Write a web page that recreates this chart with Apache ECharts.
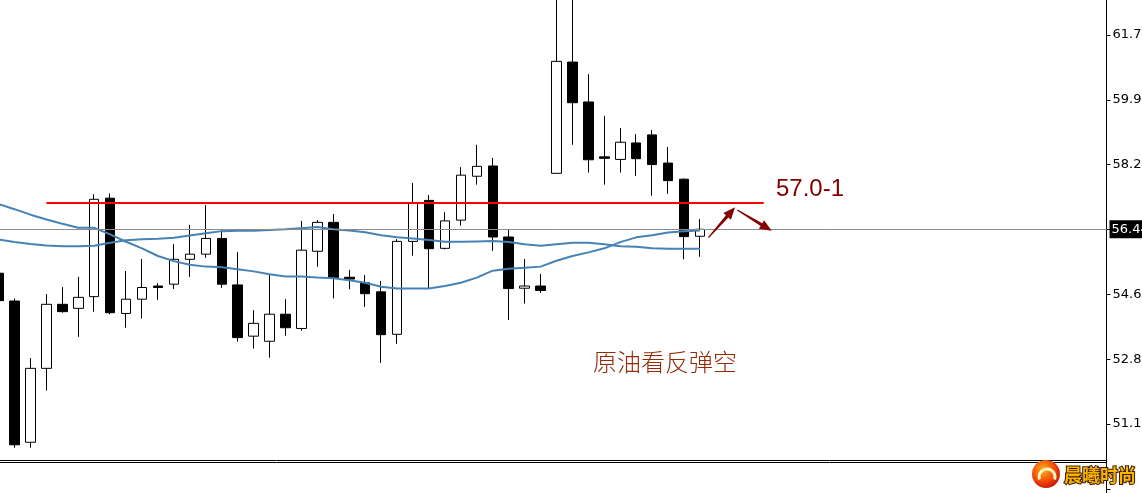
<!DOCTYPE html>
<html>
<head>
<meta charset="utf-8">
<script src="https://cdn.jsdelivr.net/npm/echarts@6/dist/echarts.min.js"></script>
<style>
html,body{margin:0;padding:0;background:#fff;}
#main{width:1142px;height:493px;}
</style>
</head>
<body>
<div id="main"></div>
<script>
// ---- data ----
const opens  = [55.24,54.48,50.62,52.64,54.39,54.28,54.60,57.29,54.14,54.53,54.89,54.94,55.62,55.76,56.19,54.92,53.52,53.38,54.12,53.73,55.84,56.63,55.13,54.98,54.73,53.57,56.11,57.23,55.92,56.69,57.89,58.17,56.23,54.83,54.89,57.97,61.01,59.92,58.42,58.35,58.80,59.02,58.25,57.81,56.25];
const closes = [54.49,50.55,52.64,54.39,54.19,54.58,57.26,54.16,54.53,54.85,54.85,55.62,55.76,56.19,54.94,53.48,53.87,54.12,53.75,55.87,56.63,55.12,55.08,54.68,53.56,56.11,57.15,55.91,56.67,57.92,58.16,56.23,54.82,54.89,54.77,61.03,59.90,58.34,58.38,58.82,58.37,58.21,57.77,56.24,56.44];
const lows   = [54.45,50.47,50.47,52.03,54.16,53.50,54.19,54.12,53.75,54.00,54.51,54.81,55.14,55.66,54.84,53.37,53.18,52.93,53.53,53.67,55.42,54.55,54.80,54.32,52.79,53.31,55.72,54.83,55.89,56.54,57.66,55.85,53.96,54.41,54.70,57.96,58.75,57.99,57.66,57.99,57.90,57.36,57.41,55.62,55.69];
const highs  = [55.30,54.55,52.92,54.67,54.86,55.14,57.40,57.42,55.30,55.63,54.97,56.04,56.56,57.10,56.42,55.82,54.23,55.19,54.53,56.67,56.69,56.86,55.33,55.19,55.03,56.17,57.71,57.38,56.91,58.14,58.75,58.39,56.43,55.63,55.22,63.50,63.30,60.68,59.54,59.21,59.04,59.15,58.69,57.83,56.72];
const maSlow = [57.13,56.99,56.84,56.71,56.59,56.48,56.48,56.30,56.10,55.92,55.71,55.57,55.47,55.42,55.40,55.35,55.29,55.21,55.15,55.15,55.12,55.10,55.05,54.98,54.87,54.82,54.82,54.82,54.89,54.98,55.12,55.31,55.36,55.39,55.42,55.58,55.71,55.81,55.92,56.09,56.22,56.28,56.35,56.39,56.41];
const maFast = [56.16,56.09,56.04,56.00,55.98,55.98,55.99,56.07,56.14,56.17,56.18,56.21,56.27,56.33,56.39,56.40,56.40,56.42,56.44,56.47,56.50,56.44,56.41,56.36,56.28,56.22,56.19,56.15,56.10,56.10,56.11,56.12,56.09,56.03,55.99,56.03,56.07,56.07,56.03,55.98,55.96,55.92,55.91,55.91,55.91];
const tickValues  = [61.750,59.978,58.206,56.434,54.662,52.890,51.118,49.346];
const labelValues = [61.750,59.978,58.206,54.662,52.890,51.118];
const currentPrice = 56.44;
const levelPrice = 57.17;
const levelText = '57.0-1';
const noteText = '原油看反弹空';
const logoText = '晨曦时尚';
const slotCount = 70;
const categories = [];
for (let i = 0; i < slotCount; i++) categories.push(String(i + 1));

const candleData = opens.map((o, i) => [o, closes[i], lows[i], highs[i]]);

const chart = echarts.init(document.getElementById('main'), null, {renderer: 'canvas'});
chart.setOption({
  animation: false,
  backgroundColor: '#ffffff',
  grid: {left: -9.4, right: 35.5, top: 0, bottom: 0, containLabel: false, outerBoundsMode: 'none'},
  xAxis: {
    type: 'category', data: categories, boundaryGap: true, show: false
  },
  yAxis: {
    type: 'value', position: 'right', min: 49.233, max: 62.707, scale: true,
    splitLine: {show: false},
    axisLine: {show: true, onZero: false, lineStyle: {color: '#000', width: 1}},
    axisTick: {show: true, length: 4, lineStyle: {color: '#000', width: 1}, customValues: tickValues},
    axisLabel: {
      show: true, customValues: labelValues, color: '#000', fontSize: 13,
      fontFamily: '"DejaVu Sans", Verdana, sans-serif', margin: 6,
      formatter: v => Number(v).toFixed(3)
    }
  },
  series: [
    {
      type: 'candlestick', data: candleData, barWidth: 10, clip: true,
      itemStyle: {color: '#ffffff', color0: '#000000', borderColor: '#000000', borderColor0: '#000000', borderWidth: 1},
      markLine: {
        silent: true, symbol: ['none', 'none'], animation: false,
        data: [
          {
            yAxis: currentPrice,
            lineStyle: {color: '#8c8c8c', width: 1, type: 'solid'},
            label: {
              show: true, position: 'end', distance: 3,
              formatter: () => currentPrice.toFixed(2),
              color: '#fff', backgroundColor: '#000', padding: [3, 4, 2, 2],
              fontSize: 13, fontFamily: '"DejaVu Sans", Verdana, sans-serif'
            }
          },
          [
            {coord: [3, levelPrice], lineStyle: {color: '#ff0000', width: 2, type: 'solid'}, label: {show: false}},
            {coord: [48, levelPrice]}
          ]
        ]
      }
    },
    {
      type: 'line', data: maSlow, showSymbol: false, symbol: 'none', smooth: false,
      lineStyle: {color: '#4682b4', width: 2}, silent: true
    },
    {
      type: 'line', data: maFast, showSymbol: false, symbol: 'none', smooth: false,
      lineStyle: {color: '#4682b4', width: 2}, silent: true
    }
  ]
});

// helpers to place annotation arrows in data space
function toPx(idx, val) {
  const i0 = Math.floor(idx);
  const f = idx - i0;
  const p0 = chart.convertToPixel({xAxisIndex: 0, yAxisIndex: 0}, [i0, val]);
  const p1 = chart.convertToPixel({xAxisIndex: 0, yAxisIndex: 0}, [i0 + 1, val]);
  return [p0[0] + f * (p1[0] - p0[0]), p0[1]];
}
function arrowPoints(t, h) {
  const dx = h[0] - t[0], dy = h[1] - t[1];
  const len = Math.sqrt(dx * dx + dy * dy);
  const ux = dx / len, uy = dy / len;
  const nx = -uy, ny = ux;
  const hl = 12, hw = 5;
  const b = [h[0] - ux * hl, h[1] - uy * hl];
  return [
    [t[0] + nx * 0.6, t[1] + ny * 0.6],
    [b[0] + nx * 1.6, b[1] + ny * 1.6],
    [b[0] + nx * hw, b[1] + ny * hw],
    [h[0], h[1]],
    [b[0] - nx * hw, b[1] - ny * hw],
    [b[0] - nx * 1.6, b[1] - ny * 1.6],
    [t[0] - nx * 0.6, t[1] - ny * 0.6]
  ];
}
const arrowUp = arrowPoints(toPx(44.53, 56.21), toPx(46.20, 57.04));
const arrowDown = arrowPoints(toPx(46.34, 56.97), toPx(48.50, 56.40));

chart.setOption({
  graphic: [
    {type: 'polygon', shape: {points: arrowUp}, style: {fill: '#850000'}, z: 10, silent: true},
    {type: 'polygon', shape: {points: arrowDown}, style: {fill: '#850000'}, z: 10, silent: true},
    {type: 'text', x: 776, y: 189, z: 10, silent: true,
      style: {text: levelText, fill: '#800000', font: '24px "Liberation Sans", Arial, sans-serif', verticalAlign: 'middle', align: 'left'}},
    {type: 'text', x: 593, y: 362, z: 10, silent: true,
      style: {text: noteText, fill: '#932a08', font: '300 24px "Noto Sans CJK SC", sans-serif', verticalAlign: 'middle', align: 'left'}},
    {type: 'line', shape: {x1: 0, y1: 460.5, x2: 1106, y2: 460.5}, style: {stroke: '#000', lineWidth: 1}, z: 10, silent: true},
    {type: 'line', shape: {x1: 0, y1: 462.5, x2: 1106, y2: 462.5}, style: {stroke: '#000', lineWidth: 1}, z: 10, silent: true},
    {type: 'circle', shape: {cx: 1046, cy: 474, r: 14}, z: 11, silent: true,
      style: {fill: new echarts.graphic.RadialGradient(0.4, 0.35, 0.7, [{offset: 0, color: '#ffb21a'}, {offset: 0.6, color: '#f04a0a'}, {offset: 1, color: '#c8100a'}])}},
    {type: 'arc', shape: {cx: 1047, cy: 477, r: 8, startAngle: Math.PI * 0.9, endAngle: Math.PI * 2.1}, z: 12, silent: true,
      style: {stroke: '#fff6c0', lineWidth: 3, fill: null}},
    {type: 'text', x: 1064, y: 475, z: 12, silent: true,
      style: {text: logoText, fill: '#f7b500', stroke: '#3a1800', lineWidth: 2,
        font: 'bold 18px "Noto Sans CJK SC", sans-serif', verticalAlign: 'middle', align: 'left'}}
  ]
});
</script>
</body>
</html>
